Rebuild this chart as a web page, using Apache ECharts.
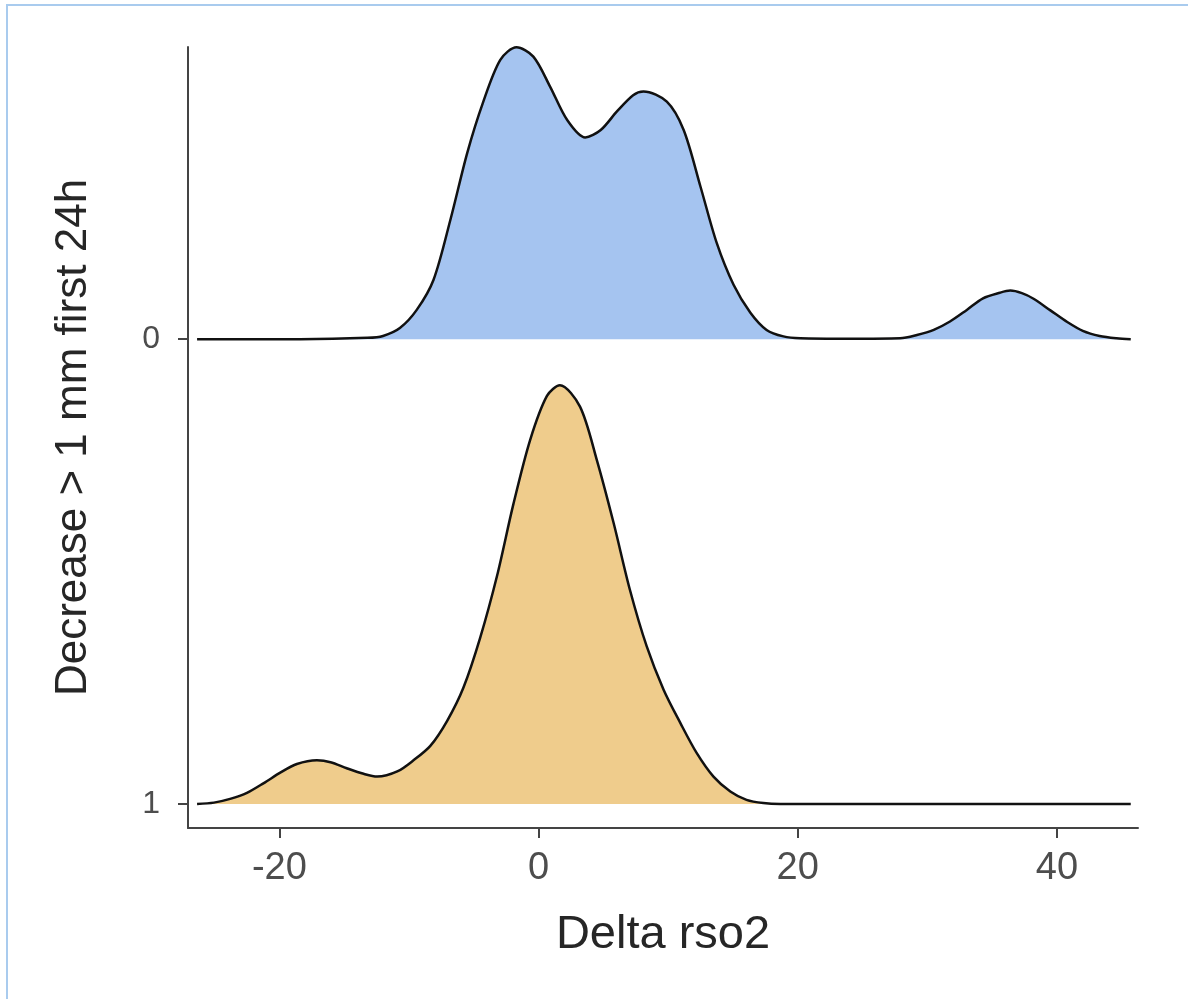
<!DOCTYPE html>
<html>
<head>
<meta charset="utf-8">
<script src="https://cdn.jsdelivr.net/npm/echarts@6/dist/echarts.min.js"></script>
<style>
  html, body { margin: 0; padding: 0; background: #fff; }
  #chart { width: 1188px; height: 999px; }
</style>
</head>
<body>
<div id="chart"></div>
<script>
// groups, top ridge first
var categories = ['0', '1'];

// ridge "0" (blue): x and density height
var blueX = [-26.35, -18.4, -13.2, -12.0, -10.7, -9.4, -8.1, -6.8, -5.5, -4.3, -2.95, -1.7, -0.4, 0.9, 2.2, 3.6, 4.8, 6.05, 7.3, 8.1, 9.9, 11.2, 12.5, 13.75, 15.05, 16.35, 17.6, 18.9, 20.2, 24.0, 27.9, 29.2, 30.5, 31.75, 33.05, 34.3, 35.6, 36.4, 37.3, 38.2, 39.5, 40.8, 42.0, 43.3, 44.6, 45.7];
var blueDensity = [0, 0, 0.003, 0.007, 0.024, 0.063, 0.128, 0.257, 0.401, 0.508, 0.601, 0.628, 0.608, 0.543, 0.472, 0.434, 0.450, 0.490, 0.525, 0.533, 0.511, 0.450, 0.328, 0.207, 0.117, 0.057, 0.020, 0.006, 0.002, 0.001, 0.002, 0.009, 0.020, 0.038, 0.063, 0.088, 0.100, 0.1045, 0.099, 0.087, 0.062, 0.037, 0.018, 0.007, 0.002, 0];

// ridge "1" (orange)
var orangeX = [-26.35, -25.05, -23.8, -22.5, -21.2, -19.9, -18.65, -17.1, -16.05, -14.8, -13.5, -12.45, -10.9, -9.65, -8.35, -7.05, -5.8, -4.5, -3.2, -1.95, -0.65, 0.65, 1.65, 3.2, 4.5, 5.8, 7.05, 8.35, 9.65, 10.95, 12.2, 13.5, 14.8, 16.05, 17.35, 18.65, 25, 35, 45.7];
var orangeDensity = [0, 0.003, 0.011, 0.024, 0.045, 0.068, 0.086, 0.094, 0.090, 0.077, 0.065, 0.059, 0.070, 0.094, 0.125, 0.179, 0.250, 0.358, 0.491, 0.644, 0.783, 0.878, 0.901, 0.855, 0.740, 0.604, 0.461, 0.339, 0.246, 0.174, 0.110, 0.059, 0.027, 0.009, 0.002, 0, 0, 0, 0];

var xTicks = [-20, 0, 20, 40];

var font = '"Liberation Sans", Arial, sans-serif';

// baseline of each ridge on the y value axis (top ridge sits highest)
function baseOf(cat) {
    return categories.length - 1 - categories.indexOf(cat);
}

function ridge(cat, xs, dens, fill) {
    var base = baseOf(cat);
    return {
        type: 'line',
        name: cat,
        data: xs.map(function (x, i) { return [x, base + dens[i]]; }),
        smooth: 0.3,
        symbol: 'none',
        lineStyle: { color: '#111', width: 2.5 },
        areaStyle: { color: fill, opacity: 1, origin: base },
        silent: true
    };
}

var chart = echarts.init(document.getElementById('chart'));

chart.setOption({
    animation: false,
    backgroundColor: '#fff',
    grid: { left: 188, right: 50, top: 47, bottom: 171 },
    xAxis: {
        type: 'value',
        min: -27.05,
        max: 46.26,
        splitLine: { show: false },
        axisLine: { onZero: false, lineStyle: { color: '#444', width: 2 } },
        axisTick: { length: 10, lineStyle: { color: '#444', width: 2 }, customValues: xTicks },
        axisLabel: { customValues: xTicks, margin: 22, fontSize: 38, color: '#4d4d4d', fontFamily: font },
        name: 'Delta rso2',
        nameLocation: 'middle',
        nameGap: 84,
        nameTextStyle: { fontSize: 47, color: '#262626', fontFamily: font }
    },
    yAxis: {
        type: 'value',
        min: -0.0516,
        max: 1.6286,
        splitLine: { show: false },
        axisLine: { show: true, onZero: false, lineStyle: { color: '#444', width: 2 } },
        axisTick: { show: true, length: 10, lineStyle: { color: '#444', width: 2 }, customValues: [0, 1] },
        axisLabel: {
            customValues: [0, 1],
            margin: 28,
            fontSize: 32,
            color: '#4d4d4d',
            fontFamily: font,
            formatter: function (v) { return categories[categories.length - 1 - Math.round(v)]; }
        },
        name: 'Decrease > 1 mm first 24h',
        nameLocation: 'middle',
        nameRotate: 90,
        nameGap: 92,
        nameTextStyle: { fontSize: 44, color: '#262626', fontFamily: font }
    },
    graphic: [
        { type: 'rect', shape: { x: 6, y: 4, width: 1182, height: 2 }, style: { fill: '#a9cbee' } },
        { type: 'rect', shape: { x: 6, y: 4, width: 2, height: 995 }, style: { fill: '#a9cbee' } }
    ],
    series: [
        ridge('0', blueX, blueDensity, '#a5c4f0'),
        ridge('1', orangeX, orangeDensity, '#efcc8c')
    ]
});
</script>
</body>
</html>
